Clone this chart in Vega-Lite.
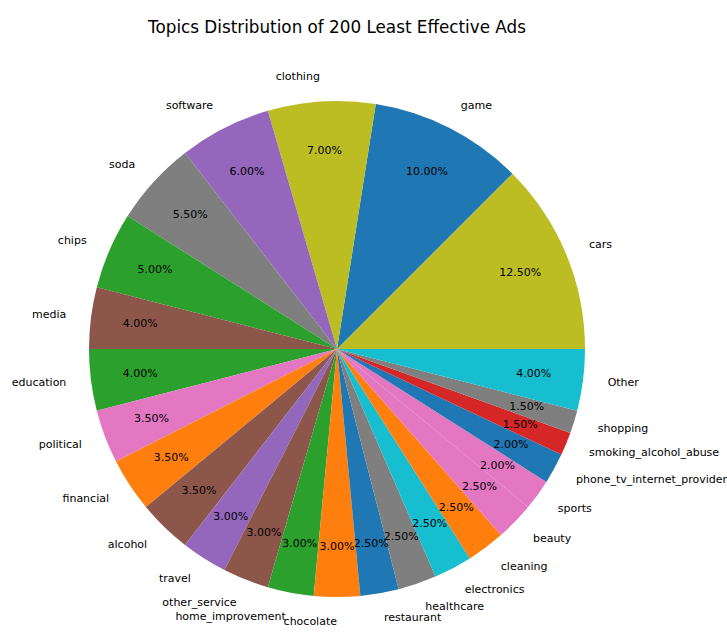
{
  "$schema": "https://vega.github.io/schema/vega-lite/v6.json",
  "autosize": {"type": "none"},
  "padding": {"top": 40, "left": 0, "right": 53, "bottom": 0},
  "width": 674,
  "height": 618,
  "background": "white",
  "title": {"text": "Topics Distribution of 200 Least Effective Ads", "font": "DejaVu Sans", "fontSize": 16.8, "fontWeight": "normal", "color": "black", "anchor": "middle", "offset": 3},
  "config": {"view": {"stroke": null}},
  "data": {"values": [
    {"i": 1, "topic": "cars", "share": 0.125},
    {"i": 2, "topic": "game", "share": 0.10},
    {"i": 3, "topic": "clothing", "share": 0.07},
    {"i": 4, "topic": "software", "share": 0.06},
    {"i": 5, "topic": "soda", "share": 0.055},
    {"i": 6, "topic": "chips", "share": 0.05},
    {"i": 7, "topic": "media", "share": 0.04},
    {"i": 8, "topic": "education", "share": 0.04},
    {"i": 9, "topic": "political", "share": 0.035},
    {"i": 10, "topic": "financial", "share": 0.035},
    {"i": 11, "topic": "alcohol", "share": 0.035},
    {"i": 12, "topic": "travel", "share": 0.03},
    {"i": 13, "topic": "other_service", "share": 0.03},
    {"i": 14, "topic": "home_improvement", "share": 0.03},
    {"i": 15, "topic": "chocolate", "share": 0.03},
    {"i": 16, "topic": "restaurant", "share": 0.025},
    {"i": 17, "topic": "healthcare", "share": 0.025},
    {"i": 18, "topic": "electronics", "share": 0.025},
    {"i": 19, "topic": "cleaning", "share": 0.025},
    {"i": 20, "topic": "beauty", "share": 0.025},
    {"i": 21, "topic": "sports", "share": 0.02},
    {"i": 22, "topic": "phone_tv_internet_provider", "share": 0.02},
    {"i": 23, "topic": "smoking_alcohol_abuse", "share": 0.015},
    {"i": 24, "topic": "shopping", "share": 0.015},
    {"i": 25, "topic": "Other", "share": 0.04}
  ]},
  "encoding": {
    "theta": {"field": "share", "type": "quantitative", "stack": true, "scale": {"domain": [0, 1], "range": [1.5707963, 7.8539816]}},
    "order": {"field": "i", "sort": "descending"}
  },
  "layer": [
    {
      "mark": {"type": "arc", "outerRadius": 248, "stroke": null},
      "encoding": {
        "color": {"field": "topic", "type": "nominal", "legend": null,
          "scale": {
            "domain": ["cars","game","clothing","software","soda","chips","media","education","political","financial","alcohol","travel","other_service","home_improvement","chocolate","restaurant","healthcare","electronics","cleaning","beauty","sports","phone_tv_internet_provider","smoking_alcohol_abuse","shopping","Other"],
            "range": ["#bcbd22","#1f77b4","#bcbd22","#9467bd","#7f7f7f","#2ca02c","#8c564b","#2ca02c","#e377c2","#ff7f0e","#8c564b","#9467bd","#8c564b","#2ca02c","#ff7f0e","#1f77b4","#7f7f7f","#17becf","#ff7f0e","#e377c2","#e377c2","#1f77b4","#d62728","#7f7f7f","#17becf"]
          }
        }
      }
    },
    {
      "mark": {"type": "text", "radius": 198.4, "font": "DejaVu Sans", "fontSize": 11, "color": "black", "align": "center", "baseline": "middle"},
      "encoding": {
        "text": {"field": "share", "type": "quantitative", "format": ".2%"}
      }
    },
    {
      "mark": {"type": "text", "radius": 272.8, "font": "DejaVu Sans", "fontSize": 11, "color": "black", "baseline": "middle",
        "align": {"expr": "((datum.share_start + datum.share_end) / 2 > 0.2499 && (datum.share_start + datum.share_end) / 2 < 0.7501) ? 'right' : 'left'"}},
      "encoding": {
        "text": {"field": "topic", "type": "nominal"}
      }
    }
  ]
}
